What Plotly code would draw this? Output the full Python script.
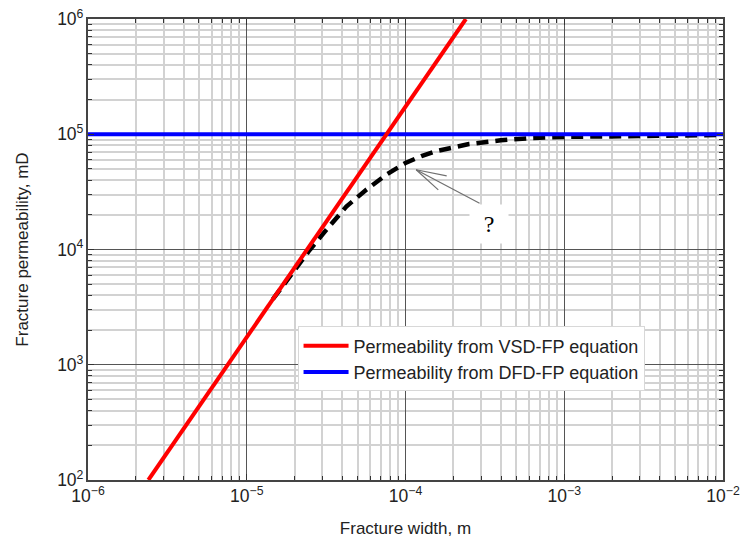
import plotly.graph_objects as go

# VSD-FP (cubic-law) permeability line
red_w = [2.4e-6, 2.4e-4]
red_k = [1e2, 1e6]
# DFD-FP permeability (constant)
blue_w = [1e-6, 1e-2]
blue_k = [1e5, 1e5]
# dashed transition curve
dash_w = [1.46e-5, 2.0e-5, 2.49e-5, 3.17e-5, 4.24e-5, 5.66e-5, 7.57e-5, 1.0e-4, 1.26e-4,
          1.58e-4, 2.0e-4, 2.51e-4, 3.98e-4, 6.3e-4, 1.0e-3, 1.58e-3, 3e-3, 6e-3, 1e-2]
dash_k = [3.7e3, 6.7e3, 9.9e3, 1.48e4, 2.36e4, 3.3e4, 4.46e4, 5.64e4, 6.46e4,
          7.16e4, 7.76e4, 8.22e4, 8.85e4, 9.29e4, 9.48e4, 9.56e4, 9.7e4, 9.8e4, 9.85e4]

legend_names = ["Permeability from VSD-FP equation", "Permeability from DFD-FP equation"]

fig = go.Figure()
fig.add_trace(go.Scatter(x=dash_w, y=dash_k, mode="lines", showlegend=False,
                         line=dict(color="black", width=4.5, dash="12px,7px")))
fig.add_trace(go.Scatter(x=blue_w, y=blue_k, mode="lines", name=legend_names[1],
                         line=dict(color="#0000ff", width=4)))
fig.add_trace(go.Scatter(x=red_w, y=red_k, mode="lines", name=legend_names[0],
                         line=dict(color="#ff0000", width=4)))

axis_common = dict(
    type="log", dtick=1, exponentformat="power", automargin=False,
    showline=True, linecolor="#444", linewidth=1.5, mirror="allticks",
    ticks="inside", ticklen=6, tickcolor="#333",
    showgrid=True, gridcolor="#555", gridwidth=1,
    zeroline=False,
    tickfont=dict(family="Liberation Sans, Arial", size=14, color="#222"),
    minor=dict(ticks="inside", ticklen=4, tickcolor="#333", showgrid=True,
               gridcolor="#d2d2d2", gridwidth=1.5),
)

fig.update_xaxes(range=[-6, -2], title=dict(text="Fracture width, m", standoff=17,
                 font=dict(family="Liberation Sans, Arial", size=17, color="#222")), **axis_common)
fig.update_yaxes(range=[2, 6], title=dict(text="Fracture permeability, mD", standoff=24,
                 font=dict(family="Liberation Sans, Arial", size=17, color="#222")), **axis_common)

line_col = "#707070"
# arrow shaft and barbs (log coordinates)
tip_x, tip_y = -3.933, 4.692
segs = [(-3.524, 4.394), (-3.731, 4.636), (-3.784, 4.506)]
for (tx, ty) in segs:
    fig.add_annotation(x=tip_x, y=tip_y, ax=tx, ay=ty, xref="x", yref="y", axref="x", ayref="y",
                       text="", showarrow=True, arrowhead=0, arrowwidth=1.2, arrowcolor=line_col,
                       standoff=0, startstandoff=0)

fig.add_annotation(x=-3.472, y=4.223, xref="x", yref="y", text="?", showarrow=False,
                   font=dict(family="Liberation Serif, Times New Roman", size=24, color="black"),
                   bgcolor="white", width=34, height=34, borderpad=2)

fig.update_layout(
    width=747, height=548,
    margin=dict(l=88, r=24, t=19, b=68),
    plot_bgcolor="white", paper_bgcolor="white",
    legend=dict(x=0.33, y=0.333, xanchor="left", yanchor="top", traceorder="reversed",
                bgcolor="white", bordercolor="#d8d8d8", borderwidth=1,
                font=dict(family="Liberation Sans, Arial", size=18, color="#222"),
                itemwidth=45, tracegroupgap=0),
)

fig.write_html("out.html", config={"displayModeBar": False},
               post_script="document.body.style.margin='0';")
